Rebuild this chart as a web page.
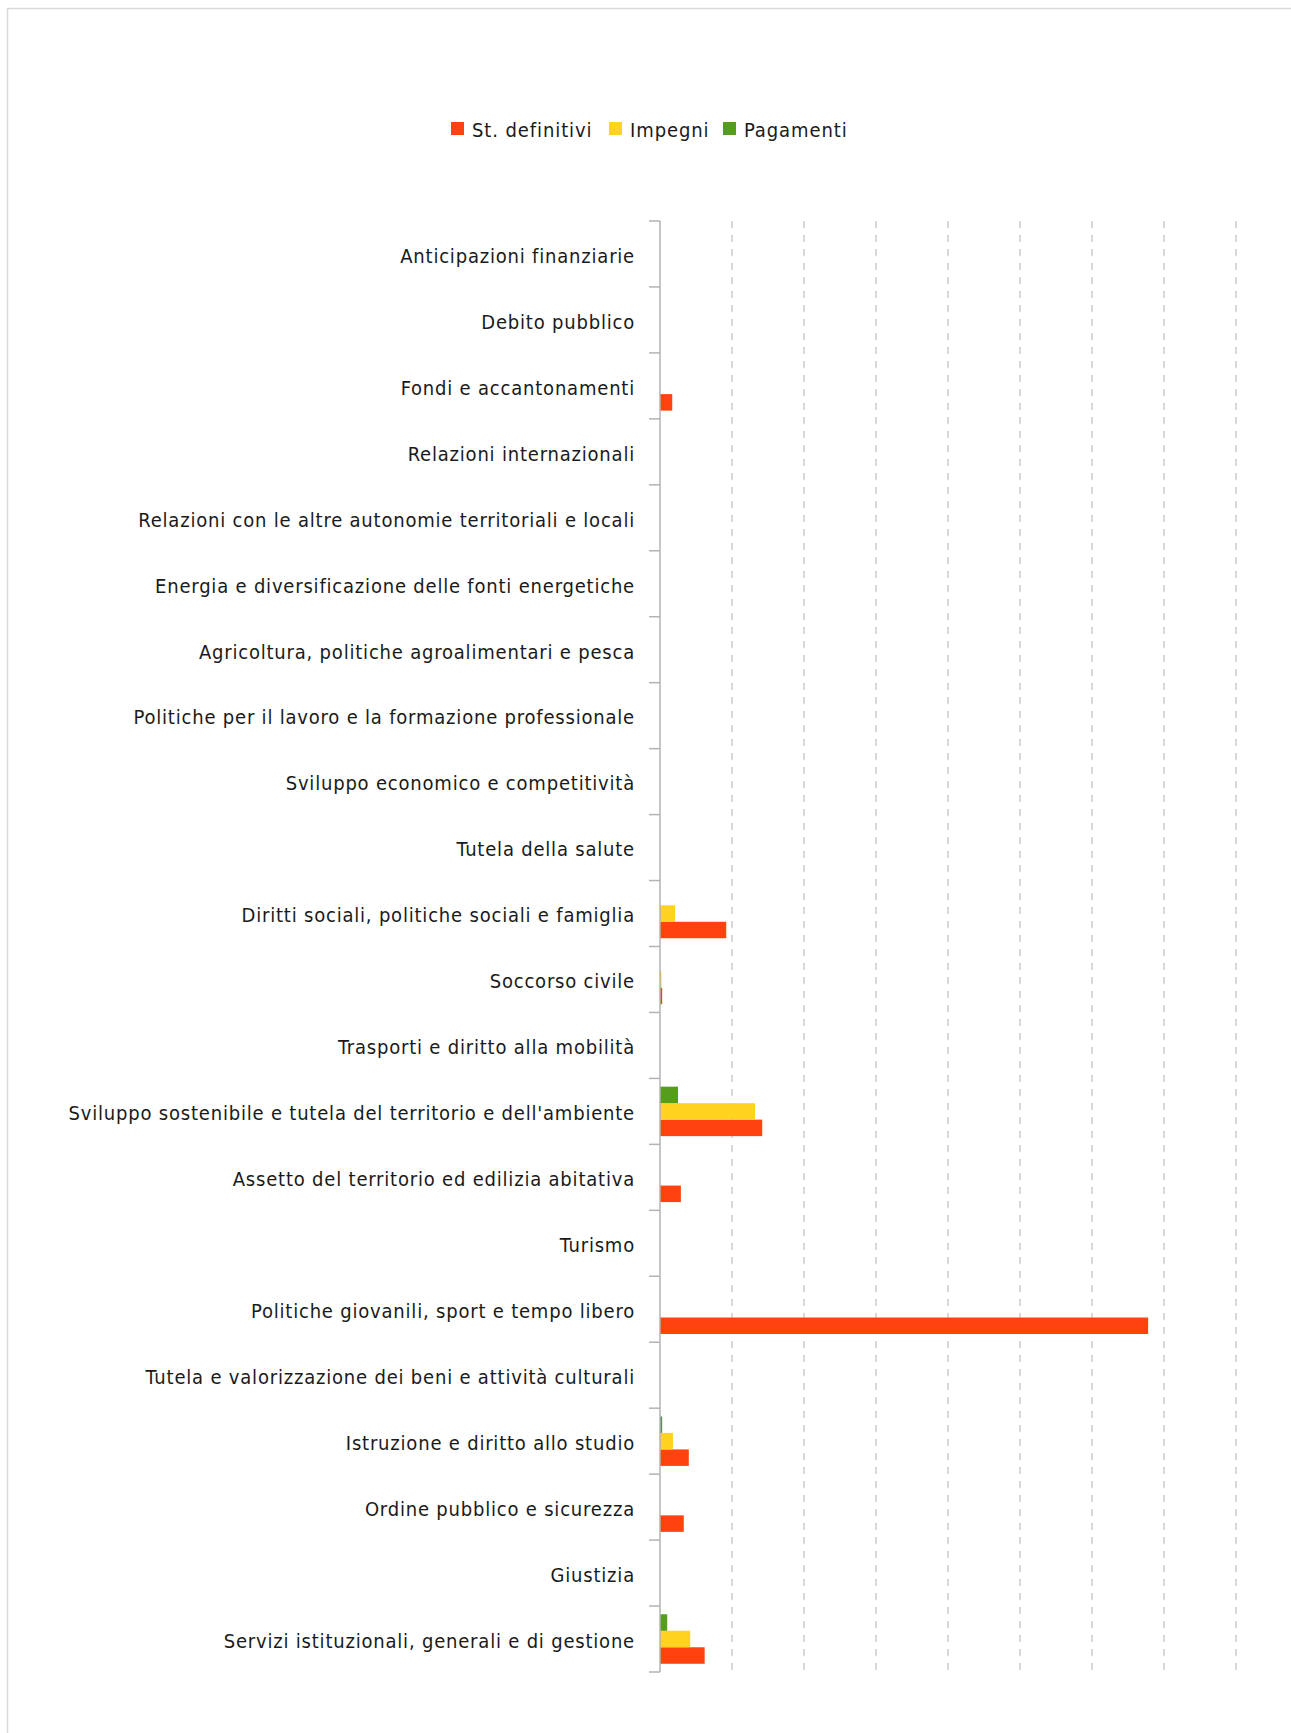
<!DOCTYPE html>
<html>
<head>
<meta charset="utf-8">
<script src="https://cdn.jsdelivr.net/npm/d3@7"></script>
<style>
	body { margin: 0; background: #fff; }
	text { font-family: 'DejaVu Sans Condensed', 'DejaVu Sans', sans-serif; fill: #1a1a1a; }
</style>
</head>
<body>
<div id="chart"></div>
<script>
const categories = [
	'Anticipazioni finanziarie',
	'Debito pubblico',
	'Fondi e accantonamenti',
	'Relazioni internazionali',
	'Relazioni con le altre autonomie territoriali e locali',
	'Energia e diversificazione delle fonti energetiche',
	'Agricoltura, politiche agroalimentari e pesca',
	'Politiche per il lavoro e la formazione professionale',
	'Sviluppo economico e competitività',
	'Tutela della salute',
	'Diritti sociali, politiche sociali e famiglia',
	'Soccorso civile',
	'Trasporti e diritto alla mobilità',
	"Sviluppo sostenibile e tutela del territorio e dell'ambiente",
	'Assetto del territorio ed edilizia abitativa',
	'Turismo',
	'Politiche giovanili, sport e tempo libero',
	'Tutela e valorizzazione dei beni e attività culturali',
	'Istruzione e diritto allo studio',
	'Ordine pubblico e sicurezza',
	'Giustizia',
	'Servizi istituzionali, generali e di gestione'
]

// valori stimati dal grafico (migliaia)
const stDefinitivi = [0, 0, 17, 0, 0, 0, 0, 0, 0, 0, 92, 3, 0, 142, 29, 0, 678, 0, 40, 33, 0, 62]
const impegni = [0, 0, 0, 0, 0, 0, 0, 0, 0, 0, 21, 2, 0, 132, 0, 0, 0, 0, 18, 0, 0, 42]
const pagamenti = [0, 0, 0, 0, 0, 0, 0, 0, 0, 0, 0, 0, 0, 25, 0, 0, 0, 0, 3, 0, 0, 10]

const seriesNames = ['St. definitivi', 'Impegni', 'Pagamenti']
const seriesColors = ['#ff420e', '#ffd320', '#579d1c']
const xMax = 800

const width = 1291
const height = 1733
const margin = { top: 221, left: 660, right: 55, bottom: 61 }

const svg = d3
	.select('#chart')
	.append('svg')
	.attr('width', width)
	.attr('height', height)

// cornice
svg
	.append('rect')
	.attr('x', 7.5)
	.attr('y', 8.5)
	.attr('width', width + 20)
	.attr('height', height + 20)
	.attr('fill', 'none')
	.attr('stroke', '#d9d9d9')
	.attr('stroke-width', 1.5)

const x = d3
	.scaleLinear()
	.domain([0, xMax])
	.range([margin.left, width - margin.right])

const y = d3
	.scaleBand()
	.domain(categories)
	.range([margin.top, height - margin.bottom])

// ordine nel gruppo: Pagamenti in alto, St. definitivi in basso
const inner = d3
	.scaleBand()
	.domain(['Pagamenti', 'Impegni', 'St. definitivi'])
	.range([0, y.bandwidth()])
	.paddingOuter(0.5)

// griglia verticale
svg
	.append('g')
	.selectAll('line')
	.data(x.ticks(8).filter((d) => d > 0))
	.enter()
	.append('line')
	.attr('x1', (d) => x(d))
	.attr('x2', (d) => x(d))
	.attr('y1', margin.top)
	.attr('y2', height - margin.bottom)
	.attr('stroke', '#c4c4c4')
	.attr('stroke-width', 1.3)
	.attr('stroke-dasharray', '7,7')

const table = categories.map((c, i) => ({
	category: c,
	values: [
		{ name: 'St. definitivi', value: stDefinitivi[i] },
		{ name: 'Impegni', value: impegni[i] },
		{ name: 'Pagamenti', value: pagamenti[i] }
	]
}))

const group = svg
	.append('g')
	.selectAll('g')
	.data(table)
	.enter()
	.append('g')
	.attr('transform', (d) => 'translate(0,' + y(d.category) + ')')

group
	.selectAll('rect')
	.data((d) => d.values.filter((v) => v.value > 0))
	.enter()
	.append('rect')
	.attr('x', x(0))
	.attr('y', (d) => inner(d.name))
	.attr('width', (d) => x(d.value) - x(0))
	.attr('height', inner.bandwidth())
	.attr('fill', (d) => seriesColors[seriesNames.indexOf(d.name)])

// asse delle categorie
const axis = svg.append('g')

axis
	.append('line')
	.attr('x1', x(0))
	.attr('x2', x(0))
	.attr('y1', margin.top)
	.attr('y2', height - margin.bottom)
	.attr('stroke', '#b3b3b3')
	.attr('stroke-width', 1.5)

const boundaries = categories.map((c) => y(c)).concat([y.range()[1]])
axis
	.selectAll('.tick')
	.data(boundaries)
	.enter()
	.append('line')
	.attr('class', 'tick')
	.attr('x1', x(0) - 11)
	.attr('x2', x(0))
	.attr('y1', (d) => d)
	.attr('y2', (d) => d)
	.attr('stroke', '#b3b3b3')
	.attr('stroke-width', 1.5)

axis
	.selectAll('.label')
	.data(categories)
	.enter()
	.append('text')
	.attr('class', 'label')
	.attr('x', x(0) - 25)
	.attr('y', (d) => y(d) + y.bandwidth() / 2)
	.attr('dy', '0.44em')
	.attr('text-anchor', 'end')
	.attr('font-size', 20)
	.attr('letter-spacing', 0.8)
	.text((d) => d)

// legenda
const legendPos = [451, 609, 723]
const legend = svg
	.append('g')
	.selectAll('g')
	.data(seriesNames)
	.enter()
	.append('g')
	.attr('transform', (d, i) => 'translate(' + legendPos[i] + ',122)')

legend
	.append('rect')
	.attr('width', 13)
	.attr('height', 13)
	.attr('fill', (d, i) => seriesColors[i])

legend
	.append('text')
	.attr('x', 21)
	.attr('y', 15)
	.attr('font-size', 20)
	.attr('letter-spacing', 0.9)
	.text((d) => d)
</script>
</body>
</html>
